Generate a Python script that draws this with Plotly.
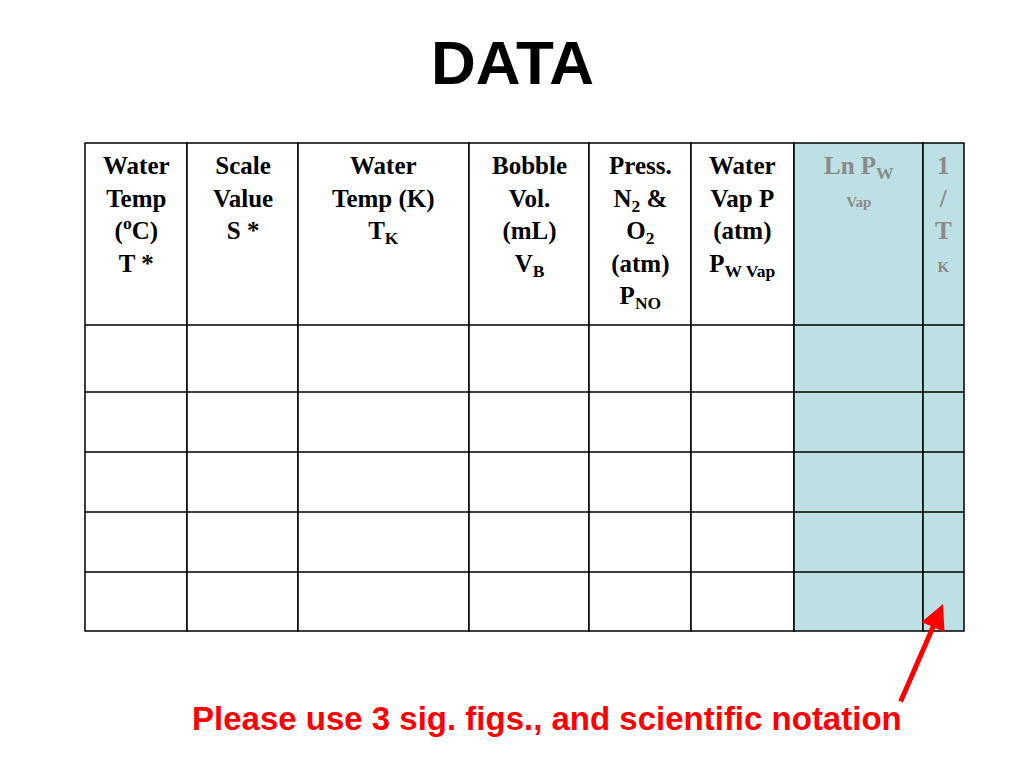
import plotly.graph_objects as go

headers = [
    "Water<br>Temp<br>(<sup>o</sup>C)<br>T *",
    "Scale<br>Value<br>S *",
    "Water<br>Temp (K)<br>T<sub>K</sub>",
    "Bobble<br>Vol.<br>(mL)<br>V<sub>B</sub>",
    "Press.<br>N<sub>2</sub> &amp;<br>O<sub>2</sub><br>(atm)<br>P<sub>NO</sub>",
    "Water<br>Vap P<br>(atm)<br>P<sub>W Vap</sub>",
    "Ln P<sub>W</sub><br><span style='font-size:15px'>Vap</span>",
    "1<br>/<br>T<br><span style='font-size:15px'>K</span>",
]
col_edges = [85, 187, 298, 469, 589, 691, 794, 923, 964]
row_edges = [143, 325, 392, 452, 512, 572, 631]
shaded = [False]*6 + [True, True]
n_rows = 5

fig = go.Figure()
shapes = []
for i in range(len(headers)):
    x0, x1 = col_edges[i], col_edges[i+1]
    shapes.append(dict(type="rect", x0=x0, x1=x1, y0=row_edges[0], y1=row_edges[-1],
                       fillcolor="#BDE0E4" if shaded[i] else "white",
                       line=dict(color="black", width=1.5), layer="below"))
for y in row_edges[1:-1]:
    shapes.append(dict(type="line", x0=col_edges[0], x1=col_edges[-1], y0=y, y1=y,
                       line=dict(color="black", width=1.5)))
anns = []
for i, h in enumerate(headers):
    anns.append(dict(x=(col_edges[i]+col_edges[i+1])/2, y=150, text="<b>"+h+"</b>", showarrow=False,
                     xanchor="center", yanchor="top", align="center",
                     font=dict(family="Liberation Serif", size=25,
                               color="#8a8a8a" if shaded[i] else "black")))
anns.append(dict(x=512, y=62, text="<b>DATA</b>", showarrow=False,
                 font=dict(family="Liberation Sans", size=62, color="black")))
anns.append(dict(x=547, y=718, text="<b>Please use 3 sig. figs., and scientific notation</b>",
                 showarrow=False, font=dict(family="Liberation Sans", size=33, color="#ff0000")))
anns.append(dict(x=943, y=604, ax=900, ay=703, axref="x", ayref="y", xref="x", yref="y",
                 text="", showarrow=True, arrowhead=2, arrowsize=1, arrowwidth=5,
                 arrowcolor="#ff0000"))
fig.update_layout(shapes=shapes, annotations=anns, width=1024, height=768,
                  margin=dict(l=0, r=0, t=0, b=0), plot_bgcolor="white", paper_bgcolor="white",
                  xaxis=dict(range=[8, 1032], visible=False, fixedrange=True),
                  yaxis=dict(range=[776, 8], visible=False, fixedrange=True),
                  showlegend=False)
fig.write_html("out.html")
